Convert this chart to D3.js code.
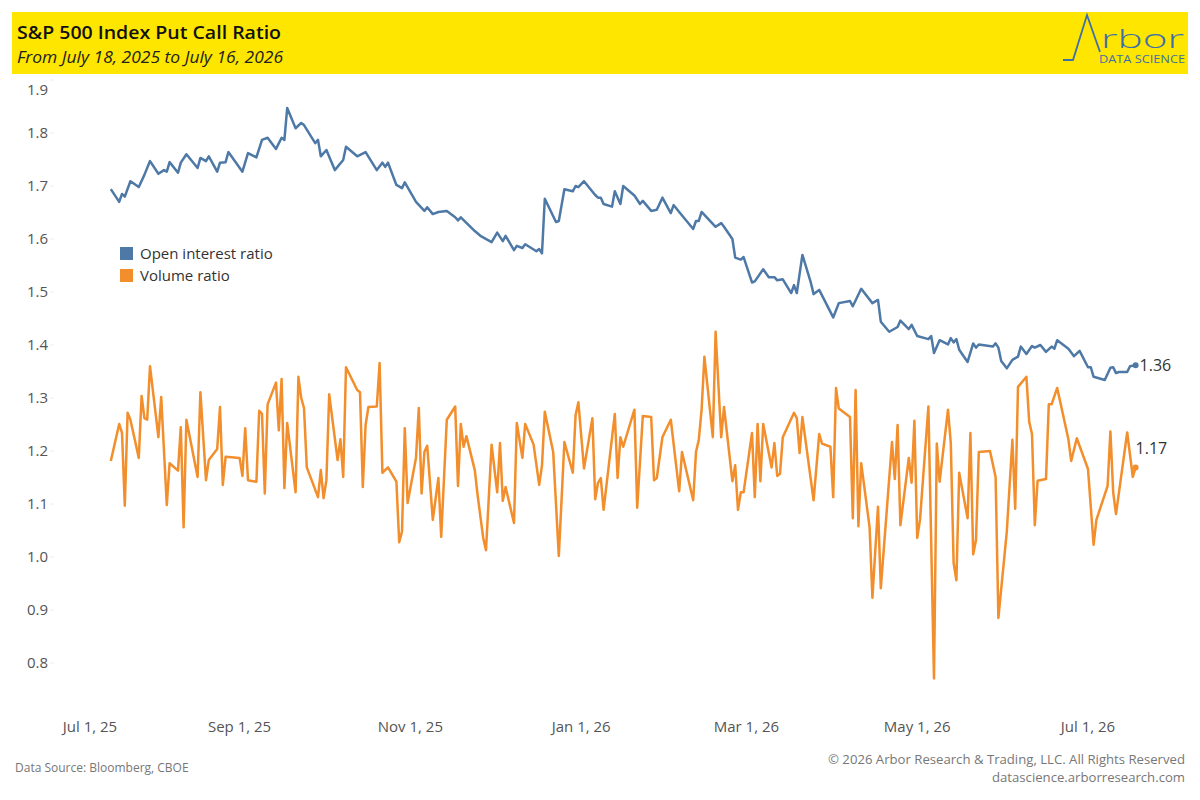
<!DOCTYPE html>
<html><head><meta charset="utf-8">
<script src="https://cdn.jsdelivr.net/npm/d3@7"></script>
<style>body{margin:0;background:#fff;font-family:"Open Sans",Lato,sans-serif}</style>
</head><body><svg id="c" width="1200" height="800"></svg>
<script>
// day offsets from Jul 1, 2025
const oiDays=[16,19,20,21,23,26,28,30,33,35,36,37,40,41,43,47,48,50,51,54,55,57,58,63,65,68,70,72,75,77,78,79,82,84,85,89,90,91,93,96,99,100,104,107,111,113,114,115,118,120,121,125,128,129,131,133,136,139,140,141,146,148,152,154,156,157,160,161,163,164,168,169,170,171,175,176,178,181,182,183,185,189,190,191,192,195,196,198,199,203,205,206,209,211,213,216,217,219,224,225,226,227,232,234,235,238,239,241,242,245,246,249,251,253,254,256,259,260,261,263,266,267,269,274,276,280,281,284,288,290,291,294,297,298,301,302,304,308,309,310,312,315,316,317,318,319,322,324,325,326,331,332,333,334,336,338,340,341,343,345,346,348,350,352,353,354,358,360,362,365,366,367,371,373,374,375,376,379,380,382];
const oiValues=[1.694,1.670,1.685,1.680,1.709,1.698,1.721,1.747,1.723,1.730,1.727,1.745,1.725,1.744,1.760,1.734,1.753,1.747,1.756,1.727,1.744,1.745,1.764,1.727,1.762,1.754,1.787,1.791,1.770,1.791,1.787,1.847,1.809,1.819,1.815,1.781,1.787,1.756,1.768,1.730,1.749,1.774,1.756,1.764,1.730,1.744,1.736,1.744,1.702,1.696,1.707,1.670,1.653,1.660,1.647,1.651,1.653,1.641,1.635,1.641,1.615,1.606,1.594,1.612,1.596,1.606,1.579,1.587,1.583,1.590,1.577,1.581,1.573,1.676,1.632,1.634,1.694,1.690,1.700,1.698,1.709,1.683,1.678,1.678,1.666,1.661,1.690,1.666,1.700,1.682,1.666,1.672,1.653,1.655,1.678,1.649,1.664,1.651,1.619,1.634,1.634,1.651,1.623,1.630,1.623,1.600,1.565,1.561,1.566,1.518,1.520,1.543,1.528,1.528,1.522,1.524,1.498,1.513,1.498,1.570,1.518,1.496,1.504,1.452,1.479,1.483,1.473,1.506,1.479,1.485,1.444,1.425,1.434,1.446,1.430,1.438,1.417,1.411,1.417,1.385,1.409,1.401,1.413,1.405,1.411,1.391,1.368,1.403,1.395,1.401,1.397,1.403,1.395,1.370,1.356,1.372,1.378,1.397,1.383,1.398,1.395,1.400,1.387,1.397,1.393,1.409,1.393,1.379,1.389,1.358,1.358,1.340,1.334,1.357,1.358,1.347,1.349,1.349,1.360,1.362];
const volDays=[16,19,20,21,22,23,26,27,28,29,30,33,34,36,37,40,41,42,43,47,48,50,51,54,55,56,57,62,63,64,65,68,69,70,71,72,75,76,77,78,79,82,83,84,85,86,90,91,92,93,94,97,98,99,100,104,105,106,107,108,111,112,113,115,118,119,120,121,122,125,126,127,128,129,131,133,134,136,139,140,141,142,143,146,147,149,150,152,154,155,156,157,160,161,163,164,167,169,170,171,174,176,178,181,182,183,185,188,189,190,191,192,196,197,198,199,203,204,206,209,210,211,213,216,219,220,224,225,226,227,228,231,232,234,235,238,239,240,241,242,245,246,247,248,249,252,253,254,255,256,260,261,262,263,267,269,270,273,274,275,276,280,281,282,283,284,287,288,290,291,295,296,297,298,301,302,303,304,305,308,310,311,312,315,316,317,318,319,322,323,324,325,326,330,332,333,336,338,339,340,343,344,345,346,347,350,351,352,354,358,359,361,365,367,368,372,373,374,375,379,381,382];
const volValues=[1.181,1.251,1.234,1.097,1.272,1.259,1.187,1.304,1.262,1.259,1.360,1.226,1.302,1.098,1.177,1.163,1.245,1.056,1.259,1.151,1.311,1.145,1.183,1.204,1.283,1.136,1.189,1.187,1.153,1.243,1.145,1.142,1.276,1.270,1.120,1.288,1.329,1.239,1.336,1.130,1.253,1.122,1.340,1.300,1.281,1.169,1.113,1.164,1.111,1.145,1.307,1.183,1.222,1.151,1.358,1.315,1.311,1.132,1.249,1.283,1.284,1.366,1.159,1.169,1.142,1.028,1.048,1.243,1.102,1.187,1.281,1.120,1.198,1.210,1.070,1.149,1.038,1.259,1.284,1.134,1.251,1.208,1.228,1.164,1.117,1.036,1.013,1.212,1.122,1.215,1.106,1.132,1.064,1.253,1.187,1.251,1.212,1.136,1.173,1.274,1.198,1.002,1.217,1.159,1.268,1.292,1.167,1.262,1.109,1.140,1.149,1.089,1.270,1.149,1.226,1.208,1.278,1.093,1.266,1.264,1.145,1.149,1.226,1.259,1.124,1.198,1.107,1.198,1.221,1.278,1.378,1.226,1.425,1.226,1.283,1.143,1.173,1.089,1.122,1.122,1.234,1.113,1.251,1.143,1.251,1.169,1.215,1.153,1.157,1.226,1.272,1.262,1.196,1.264,1.107,1.232,1.214,1.208,1.113,1.319,1.280,1.264,1.073,1.315,1.058,1.177,1.056,0.923,1.095,0.941,1.217,1.147,1.249,1.060,1.187,1.140,1.257,1.036,1.070,1.284,0.771,1.214,1.142,1.278,1.215,0.989,0.956,1.159,1.073,1.234,1.005,1.032,1.198,1.200,1.151,0.885,1.048,1.221,1.091,1.321,1.340,1.255,1.232,1.060,1.144,1.147,1.288,1.288,1.319,1.222,1.181,1.224,1.166,1.023,1.070,1.134,1.237,1.122,1.081,1.235,1.151,1.169];
const yTicks=[0.8,0.9,1.0,1.1,1.2,1.3,1.4,1.5,1.6,1.7,1.8,1.9];
const xTickDates=["2025-07-01","2025-09-01","2025-11-01","2026-01-01","2026-03-01","2026-05-01","2026-07-01"];
const xTickLabels=["Jul 1, 25","Sep 1, 25","Nov 1, 25","Jan 1, 26","Mar 1, 26","May 1, 26","Jul 1, 26"];
const seriesNames=["Open interest ratio","Volume ratio"];
const colors=["#4e79a7","#f28e2b"];

const svg=d3.select("#c");
const t0=new Date(2025,6,1);
const toDate=d=>d3.timeDay.offset(t0,d);
const x=d3.scaleTime().domain([t0,new Date(2026,6,1)]).range([66,1088]);
const y=d3.scaleLinear().domain([0.8,1.9]).range([663,80]);
const font='"Open Sans",Lato,sans-serif';

// header
svg.append("rect").attr("x",12).attr("y",12).attr("width",1176).attr("height",62).attr("fill","#ffe600");
svg.append("text").attr("x",17).attr("y",39).attr("font-size",18.5).attr("font-weight",600).attr("fill","#111").attr("font-family",font).attr("textLength",264).attr("lengthAdjust","spacingAndGlyphs").text("S&P 500 Index Put Call Ratio");
svg.append("text").attr("x",17).attr("y",63).attr("font-size",15.5).attr("font-style","italic").attr("fill","#222").attr("font-family",font).attr("textLength",266).attr("lengthAdjust","spacingAndGlyphs").text("From July 18, 2025 to July 16, 2026");
// logo
svg.append("path").attr("d","M1063,60 L1073,60 L1087,15 L1100,52").attr("fill","none").attr("stroke","#3e6fa8").attr("stroke-width",1.8);
svg.append("text").attr("x",1101).attr("y",48).attr("font-size",25).attr("font-weight",300).attr("fill","#3e6fa8").attr("font-family",font).attr("textLength",83).attr("lengthAdjust","spacingAndGlyphs").text("rbor");
svg.append("text").attr("x",1099).attr("y",63).attr("font-size",10).attr("fill","#3e6fa8").attr("font-family",font).attr("textLength",86).attr("lengthAdjust","spacingAndGlyphs").text("DATA SCIENCE");

// y axis labels (top one clamped inside the plot like the reference)
svg.append("g").selectAll("text").data(yTicks).join("text")
  .attr("x",27).attr("y",d=>Math.max(y(d),90)+5).attr("font-size",15).attr("fill","#555").attr("font-family",font)
  .text(d=>d.toFixed(1));
svg.append("g").selectAll("line").data(yTicks).join("line")
  .attr("x1",50).attr("x2",54).attr("y1",d=>y(d)).attr("y2",d=>y(d)).attr("stroke","#eee");
// x axis labels
svg.append("g").selectAll("text").data(xTickDates).join("text")
  .attr("x",(d,i)=>{const p=x(new Date(d+"T00:00"));return i===0?Math.max(p,90):p;})
  .attr("y",732).attr("text-anchor","middle").attr("font-size",15).attr("fill","#555").attr("font-family",font)
  .text((d,i)=>xTickLabels[i]);

const line=d3.line().x(d=>x(toDate(d[0]))).y(d=>y(d[1]));
const oi=oiDays.map((d,i)=>[d,oiValues[i]]);
const vol=volDays.map((d,i)=>[d,volValues[i]]);
svg.append("path").datum(vol).attr("d",line).attr("fill","none").attr("stroke",colors[1]).attr("stroke-width",2.5).attr("stroke-linejoin","round");
svg.append("path").datum(oi).attr("d",line).attr("fill","none").attr("stroke",colors[0]).attr("stroke-width",2.5).attr("stroke-linejoin","round");
[[oi,0],[vol,1]].forEach(([s,k])=>{
  const last=s[s.length-1];
  svg.append("circle").attr("cx",x(toDate(last[0]))).attr("cy",y(last[1])).attr("r",3).attr("fill",colors[k]);
});
const lo=oi[oi.length-1], lv=vol[vol.length-1];
svg.append("text").attr("x",x(toDate(lo[0]))+4).attr("y",y(lo[1])+6).attr("font-size",16).attr("fill","#333").attr("font-family",font).text(lo[1].toFixed(2));
svg.append("text").attr("x",x(toDate(lv[0]))).attr("y",y(lv[1])-13).attr("font-size",16).attr("fill","#333").attr("font-family",font).text(lv[1].toFixed(2));

// legend
const lg=svg.append("g").selectAll("g").data(seriesNames).join("g").attr("transform",(d,i)=>`translate(120,${247+i*22})`);
lg.append("rect").attr("width",13).attr("height",13).attr("fill",(d,i)=>colors[i]);
lg.append("text").attr("x",20).attr("y",12).attr("font-size",15).attr("fill","#333").attr("font-family",font).text(d=>d);

// footer
svg.append("text").attr("x",15).attr("y",772).attr("font-size",12).attr("fill","#777").attr("font-family",font).text("Data Source: Bloomberg, CBOE");
svg.append("text").attr("x",1185).attr("y",764).attr("text-anchor","end").attr("font-size",13).attr("fill","#777").attr("font-family",font).attr("textLength",357).attr("lengthAdjust","spacingAndGlyphs").text("© 2026 Arbor Research & Trading, LLC. All Rights Reserved");
svg.append("text").attr("x",1185).attr("y",782).attr("text-anchor","end").attr("font-size",13).attr("fill","#777").attr("font-family",font).attr("textLength",193).attr("lengthAdjust","spacingAndGlyphs").text("datascience.arborresearch.com");
</script></body></html>
